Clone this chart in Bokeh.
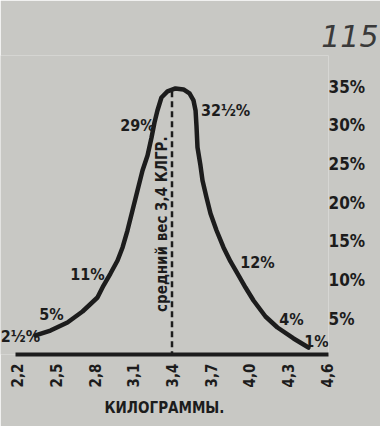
import math
from bokeh.plotting import figure
from bokeh.models import FixedTicker, Range1d, LabelSet, ColumnDataSource, Label
from bokeh.core.properties import value
from bokeh.embed import file_html
from bokeh.resources import INLINE

# ---------------- data ----------------
weight_kg = [2.340, 2.456, 2.588, 2.705, 2.821, 2.868, 2.922, 2.977, 3.016, 3.054,
             3.093, 3.132, 3.171, 3.210, 3.241, 3.264, 3.287, 3.318, 3.365, 3.427,
             3.489, 3.536, 3.567, 3.583, 3.590, 3.598, 3.621, 3.637, 3.668, 3.699,
             3.746, 3.800, 3.854, 3.909, 3.971, 4.033, 4.126, 4.219, 4.344, 4.460]
share_pct = [2.81, 3.45, 4.49, 5.91, 7.72, 9.27, 10.82, 12.51, 14.19, 16.38,
             18.97, 21.56, 24.14, 26.08, 28.41, 30.34, 31.90, 33.58, 34.36, 34.75,
             34.62, 34.10, 33.20, 31.90, 29.96, 27.12, 24.79, 22.85, 20.65, 18.58,
             16.38, 14.19, 12.38, 10.82, 9.01, 7.33, 5.26, 3.84, 2.42, 1.25]

tick_kg = [2.2, 2.5, 2.8, 3.1, 3.4, 3.7, 4.0, 4.3, 4.6]
tick_labels = ["2,2", "2,5", "2,8", "3,1", "3,4", "3,7", "4,0", "4,3", "4,6"]
pct_ticks = [5, 10, 15, 20, 25, 30, 35]
pct_tick_labels = ["5%", "10%", "15%", "20%", "25%", "30%", "35%"]
class_labels = ["2½%", "5%", "11%", "29%", "32½%", "12%", "4%", "1%"]
mean_weight = 3.4
mean_label = "средний вес 3,4 КЛГР."
x_title = "КИЛОГРАММЫ."
page_number = "115"

# ---------------- layout (label anchors) ----------------
label_x = [2.223, 2.464, 2.744, 3.132, 3.816, 4.064, 4.328, 4.522]
label_y = [2.68, 5.52, 10.69, 29.96, 31.90, 12.25, 4.89, 2.03]

INK = "#1c1c1c"
BG = "#c8c8c4"
FONT = "DejaVu Sans Condensed"

p = figure(width=380, height=426, output_backend="svg", toolbar_location=None,
           x_range=Range1d(2.068, 4.6155), y_range=Range1d(0.349, 39.01),
           y_axis_location="right",
           min_border_left=0, min_border_right=52, min_border_top=55, min_border_bottom=72)
p.background_fill_color = BG
p.border_fill_color = BG
p.outline_line_color = None
p.xgrid.visible = False
p.ygrid.visible = False

# page number as title
p.title.text = page_number
p.title.align = "right"
p.title.offset = -50
p.title.standoff = 18
p.title.text_font = "DejaVu Sans"
p.title.text_font_style = "italic"
p.title.text_font_size = "30px"
p.title.text_color = "#3a3a3a"

# x axis
xa = p.xaxis[0]
xa.bounds = (2.1845, 4.6155)
xa.ticker = FixedTicker(ticks=tick_kg)
xa.major_label_overrides = {t: l for t, l in zip(tick_kg, tick_labels)}
xa.major_label_orientation = math.pi / 2
xa.axis_line_width = 4
xa.axis_line_color = INK
xa.major_tick_line_color = None
xa.minor_tick_line_color = None
xa.major_tick_out = 0
xa.major_label_standoff = 9
xa.major_label_text_font = FONT
xa.major_label_text_font_style = "bold"
xa.major_label_text_font_size = "15px"
xa.major_label_text_color = INK
xa.axis_label = x_title
xa.axis_label_text_font = FONT
xa.axis_label_text_font_style = "bold"
xa.axis_label_text_font_size = "15px"
xa.axis_label_text_color = INK
xa.axis_label_standoff = 9

# y axis (right)
ya = p.yaxis[0]
ya.ticker = FixedTicker(ticks=pct_ticks)
ya.major_label_overrides = {t: l for t, l in zip(pct_ticks, pct_tick_labels)}
ya.axis_line_color = None
ya.major_tick_line_color = None
ya.minor_tick_line_color = None
ya.major_tick_out = 0
ya.major_tick_in = 0
ya.major_label_standoff = 0
ya.major_label_text_font = FONT
ya.major_label_text_font_style = "bold"
ya.major_label_text_font_size = "17px"
ya.major_label_text_color = INK

# mean line
p.segment(x0=[mean_weight], y0=[0], x1=[mean_weight], y1=[max(share_pct)],
          line_color=INK, line_width=2.5, line_dash="6 4")

# curve
p.line(weight_kg, share_pct, line_color=INK, line_width=4.5,
       line_join="round", line_cap="round")

# class percentage labels
src = ColumnDataSource(dict(x=label_x, y=label_y, t=class_labels))
p.add_layout(LabelSet(x="x", y="y", text="t", source=src,
                      text_align="center", text_baseline="middle",
                      text_font=value(FONT), text_font_style="bold",
                      text_font_size="16px", text_color=INK))

# mean label
p.add_layout(Label(x=3.326, y=17.2, text=mean_label, angle=math.pi / 2,
                   text_align="center", text_baseline="middle",
                   text_font=FONT, text_font_style="bold",
                   text_font_size="15px", text_color=INK))

open("out.html", "w").write(file_html(p, INLINE))
